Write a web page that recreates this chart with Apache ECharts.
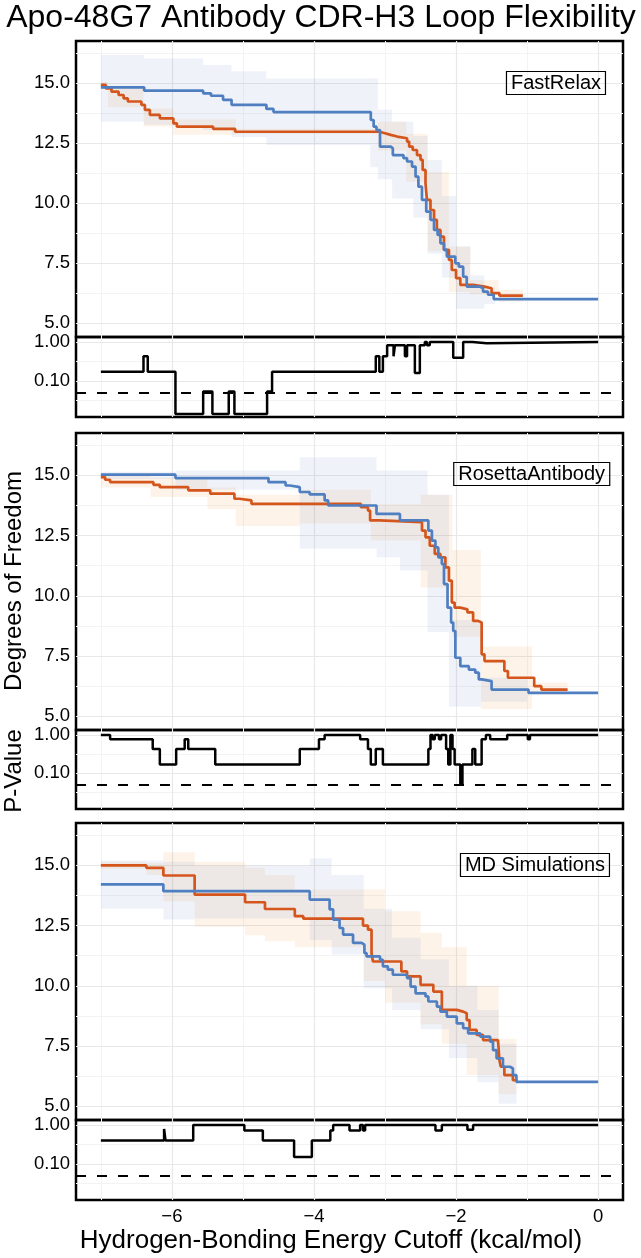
<!DOCTYPE html>
<html><head><meta charset="utf-8">
<script src="https://cdn.jsdelivr.net/npm/echarts@6/dist/echarts.min.js"></script>
<style>html,body{margin:0;padding:0;background:#fff}#c{width:641px;height:1258px}</style>
</head><body><div id="c"></div>
<script>
// ---------- tick labels / panel names ----------
const panelNames = ['FastRelax', 'RosettaAntibody', 'MD Simulations'];
const dofTicks = [5, 7.5, 10, 12.5, 15];
const pTicks = [0.1, 1];
const xTicks = [-6, -4, -2, 0];

// ---------- FastRelax ----------
const frOrange = [[-7.00,14.93],[-6.93,14.79],[-6.85,14.65],[-6.75,14.51],[-6.68,14.37],[-6.62,14.24],[-6.43,14.10],[-6.38,13.89],[-6.31,13.68],[-6.17,13.54],[-5.98,13.33],[-5.93,13.19],[-5.42,13.10],[-5.11,12.98],[-3.08,12.92],[-3.00,12.85],[-2.92,12.78],[-2.83,12.71],[-2.69,12.57],[-2.66,12.36],[-2.61,12.22],[-2.55,12.01],[-2.50,11.81],[-2.47,11.39],[-2.43,10.83],[-2.41,10.14],[-2.36,9.72],[-2.31,9.31],[-2.27,8.89],[-2.22,8.61],[-2.17,8.06],[-2.10,7.64],[-2.06,7.22],[-2.00,6.88],[-1.94,6.60],[-1.76,6.53],[-1.60,6.46],[-1.50,6.26],[-1.39,6.15],[-1.06,6.15]];
const frBlue = [[-7.00,14.83],[-6.39,14.69],[-5.56,14.58],[-5.45,14.48],[-5.28,14.31],[-5.16,14.10],[-4.67,13.93],[-4.57,13.80],[-3.20,13.47],[-3.16,13.19],[-3.12,13.05],[-3.07,12.36],[-2.92,12.29],[-2.89,12.01],[-2.74,11.88],[-2.69,11.74],[-2.62,11.53],[-2.57,11.11],[-2.53,10.69],[-2.48,10.14],[-2.42,9.65],[-2.36,9.31],[-2.31,8.89],[-2.26,8.68],[-2.22,8.33],[-2.17,8.06],[-2.13,7.78],[-2.01,7.50],[-1.96,7.36],[-1.90,6.94],[-1.85,6.53],[-1.67,6.46],[-1.62,6.32],[-1.55,6.19],[-1.47,6.01],[0,6.01]];
// ribbons: [x0, x1, lower, upper]
const frOrangeBand = [[-7.0,-6.9,14.75,15.05],[-6.9,-6.4,14.0,14.8],[-6.4,-5.98,13.2,13.95],[-5.98,-5.1,12.85,13.5],[-5.1,-3.1,12.9,13.1],[-3.1,-2.7,12.2,13.4],[-2.7,-2.4,10.9,12.9],[-2.4,-2.1,8.0,11.3],[-2.1,-1.8,6.3,8.2],[-1.8,-1.4,6.2,6.8],[-1.4,-1.06,5.9,6.4]];
const frBlueBand = [[-7.0,-6.39,13.4,16.18],[-6.39,-5.56,13.26,16.04],[-5.56,-5.16,13.05,15.76],[-5.16,-4.67,12.75,15.5],[-4.67,-3.21,12.43,15.2],[-3.21,-3.1,11.5,15.2],[-3.1,-2.9,11.0,13.9],[-2.9,-2.6,10.2,13.4],[-2.6,-2.4,9.4,12.8],[-2.4,-2.2,7.9,11.8],[-2.2,-2.0,6.9,10.3],[-2.0,-1.8,5.6,8.2],[-1.8,-1.6,5.6,7.0],[-1.6,-1.45,5.8,6.5]];
const frP = [[-7.00,0.17],[-6.40,0.43],[-6.34,0.17],[-5.95,0.014],[-5.56,0.053],[-5.43,0.014],[-5.20,0.053],[-5.12,0.014],[-4.66,0.053],[-4.59,0.17],[-3.13,0.43],[-3.08,0.17],[-3.03,0.43],[-2.97,0.83],[-2.88,0.43],[-2.86,0.83],[-2.72,0.43],[-2.69,0.83],[-2.58,0.16],[-2.51,0.83],[-2.44,1.0],[-2.41,0.83],[-2.37,1.0],[-2.04,0.39],[-1.90,1.0],[-1.77,0.93],[-1.57,1.0],[0,1.0]];

// ---------- RosettaAntibody ----------
const raOrange = [[-7.00,14.93],[-6.94,14.82],[-6.87,14.72],[-6.26,14.61],[-6.17,14.51],[-5.77,14.38],[-5.46,14.24],[-5.12,14.03],[-5.05,13.96],[-4.88,13.82],[-3.34,13.68],[-3.24,13.54],[-3.21,13.13],[-3.08,13.06],[-2.48,12.71],[-2.43,12.43],[-2.37,12.08],[-2.30,11.74],[-2.22,11.60],[-2.15,11.18],[-2.10,10.63],[-2.06,9.72],[-2.02,9.51],[-1.94,9.44],[-1.84,9.31],[-1.76,8.96],[-1.69,8.89],[-1.64,7.57],[-1.60,7.29],[-1.32,6.88],[-1.27,6.60],[-0.90,6.25],[-0.80,6.11],[-0.43,6.11]];
const raBlue = [[-7.00,15.03],[-5.95,14.89],[-4.64,14.72],[-4.40,14.58],[-4.34,14.51],[-4.20,14.31],[-4.06,14.21],[-3.85,13.96],[-3.80,13.75],[-3.12,13.40],[-2.79,13.13],[-2.39,12.71],[-2.34,12.29],[-2.29,12.01],[-2.25,11.60],[-2.20,11.32],[-2.17,10.49],[-2.12,9.51],[-2.07,8.89],[-2.04,8.54],[-2.01,7.43],[-1.94,7.08],[-1.82,6.94],[-1.73,6.81],[-1.68,6.53],[-1.64,6.46],[-1.50,6.11],[-0.98,5.97],[0,5.97]];
const raOrangeBand = [[-7.0,-6.3,14.5,15.05],[-6.3,-5.5,14.1,14.9],[-5.5,-5.1,13.6,14.5],[-5.1,-4.2,12.9,14.2],[-4.2,-3.2,13.0,14.4],[-3.2,-2.5,12.3,13.8],[-2.5,-2.05,10.35,14.2],[-2.05,-1.65,8.3,11.9],[-1.65,-0.93,5.3,7.9],[-0.93,-0.43,5.9,6.4]];
const raBlueBand = [[-7.0,-5.95,14.85,15.15],[-5.95,-4.2,14.4,15.2],[-4.2,-3.12,11.95,15.75],[-3.12,-2.79,11.6,15.2],[-2.79,-2.4,11.05,15.2],[-2.4,-2.1,8.5,14.2],[-2.1,-1.65,5.4,9.0],[-1.65,-1.0,5.6,6.6]];
const raP = [[-7.00,1.0],[-6.87,0.77],[-6.27,0.43],[-6.17,0.17],[-5.94,0.43],[-5.82,0.77],[-5.77,0.43],[-5.39,0.17],[-4.20,0.43],[-3.93,0.77],[-3.85,1.0],[-3.35,0.77],[-3.24,0.43],[-3.20,0.17],[-3.13,0.43],[-3.03,0.17],[-2.39,0.43],[-2.36,1.0],[-2.33,0.77],[-2.30,1.0],[-2.24,0.77],[-2.21,1.0],[-2.14,0.43],[-2.11,0.17],[-2.08,1.0],[-2.05,0.43],[-2.02,0.17],[-1.94,0.052],[-1.91,0.17],[-1.77,0.43],[-1.73,0.17],[-1.64,0.77],[-1.58,1.0],[-1.52,0.77],[-1.28,1.0],[-0.99,0.77],[-0.96,1.0],[0,1.0]];

// ---------- MD Simulations ----------
const mdOrange = [[-7.00,15.00],[-6.36,14.90],[-6.12,14.58],[-5.68,13.79],[-4.97,13.47],[-4.69,13.19],[-4.27,12.89],[-4.15,12.79],[-3.31,12.50],[-3.24,12.33],[-3.19,11.36],[-3.17,11.01],[-2.77,10.60],[-2.69,10.39],[-2.50,10.04],[-2.32,9.76],[-2.20,9.00],[-1.99,8.93],[-1.90,8.86],[-1.85,8.58],[-1.81,8.17],[-1.71,7.96],[-1.62,7.75],[-1.41,7.68],[-1.39,6.92],[-1.37,6.64],[-1.32,6.29],[-1.20,6.08],[-1.15,6.01]];
const mdBlue = [[-7.00,14.21],[-6.12,13.93],[-4.06,13.58],[-3.78,13.17],[-3.73,12.75],[-3.64,12.40],[-3.59,12.13],[-3.45,11.78],[-3.33,11.71],[-3.29,11.36],[-3.26,11.22],[-3.07,11.08],[-3.03,10.81],[-2.96,10.67],[-2.89,10.46],[-2.69,10.32],[-2.64,9.97],[-2.57,9.69],[-2.43,9.56],[-2.39,9.35],[-2.27,9.14],[-2.22,8.93],[-2.13,8.72],[-1.99,8.44],[-1.90,8.24],[-1.83,8.03],[-1.66,7.89],[-1.52,7.68],[-1.48,7.33],[-1.43,6.99],[-1.34,6.64],[-1.24,6.57],[-1.20,6.29],[-1.15,6.01],[0,6.01]];
const mdOrangeBand = [[-7.0,-6.36,14.85,15.15],[-6.36,-6.12,14.6,15.1],[-6.12,-5.68,13.5,15.55],[-5.68,-4.97,12.45,15.15],[-4.97,-4.69,12.1,14.9],[-4.69,-4.27,11.85,14.6],[-4.27,-3.3,11.6,14.0],[-3.3,-3.0,10.2,14.0],[-3.0,-2.5,9.3,13.1],[-2.5,-2.2,8.4,12.2],[-2.2,-1.85,7.6,11.6],[-1.85,-1.4,6.3,10.0],[-1.4,-1.15,5.5,7.8]];
const mdBlueBand = [[-7.0,-6.12,13.2,15.2],[-6.12,-5.68,12.75,15.15],[-5.68,-4.06,12.8,15.0],[-4.06,-3.75,11.9,15.3],[-3.75,-3.3,11.3,14.6],[-3.3,-2.9,9.9,13.2],[-2.9,-2.5,9.0,12.0],[-2.5,-2.1,8.2,11.1],[-2.1,-1.7,7.0,10.0],[-1.7,-1.4,6.0,9.0],[-1.4,-1.15,5.1,7.6]];
const mdP = [[-7.00,0.40],[-6.11,0.79],[-6.09,0.40],[-5.70,1.0],[-4.98,0.72],[-4.72,0.40],[-4.28,0.15],[-4.03,0.40],[-3.77,0.72],[-3.73,1.0],[-3.50,0.72],[-3.35,1.0],[-3.31,0.72],[-3.28,1.0],[-2.29,0.72],[-2.20,1.0],[-1.84,0.75],[-1.76,1.0],[0,1.0]];
const pThreshold = 0.05;

// ---------- styling / layout ----------
const FONT = "'Liberation Sans', Arial, Helvetica, sans-serif";
const ORANGE = '#D4561C', BLUE = '#4F7FC1';
const ORANGE_FILL = 'rgba(242,160,70,0.12)', BLUE_FILL = 'rgba(79,127,193,0.09)';
const X_MIN = -7.35, X_MAX = 0.35, Y_MIN = 4.43, Y_MAX = 16.76;
const P_MIN = -1.933, P_MAX = 0.129; // log10 range
const LEFT = 76, RIGHT = 18;
const mainTops = [41, 433, 823], mainH = [296, 297, 297];
const pTops = [337, 730, 1120], pH = [80, 79, 80];
const panels = [
  {orange: frOrange, blue: frBlue, ob: frOrangeBand, bb: frBlueBand, p: frP},
  {orange: raOrange, blue: raBlue, ob: raOrangeBand, bb: raBlueBand, p: raP},
  {orange: mdOrange, blue: mdBlue, ob: mdOrangeBand, bb: mdBlueBand, p: mdP}
];

const MAJ = '#E8E8E8', MIN = '#F3F3F3';
const grids = [], xAxes = [], yAxes = [], series = [], titles = [];
const minusFmt = v => (v < 0 ? '\u2212' + Math.abs(v) : String(v));

function bandSeries(idx, band, fill) {
  return {
    type: 'custom', xAxisIndex: idx, yAxisIndex: idx, z: 2, silent: true, clip: true,
    data: band, encode: {x: [0, 1], y: [2, 3]},
    renderItem: function (params, api) {
      const p0 = api.coord([api.value(0), api.value(3)]);
      const p1 = api.coord([api.value(1), api.value(2)]);
      return {type: 'rect', shape: {x: p0[0], y: p0[1], width: p1[0] - p0[0], height: p1[1] - p0[1]},
        style: {fill: fill}};
    }
  };
}
function markSeries(idx, items, z) {
  return {type: 'line', xAxisIndex: idx, yAxisIndex: idx, data: [], silent: true,
    markLine: {silent: true, z: z, symbol: ['none', 'none'], animation: false, label: {show: false},
      lineStyle: {type: 'solid', color: MAJ, width: 1}, data: items}};
}
function gridLineSeries(idx, xMaj, xMin, yMaj, yMin) {
  const d = [];
  xMin.forEach(v => d.push({xAxis: v, lineStyle: {color: MIN, width: 1, type: 'solid'}}));
  yMin.forEach(v => d.push({yAxis: v, lineStyle: {color: MIN, width: 1, type: 'solid'}}));
  xMaj.forEach(v => d.push({xAxis: v, lineStyle: {color: MAJ, width: 1.2, type: 'solid'}}));
  yMaj.forEach(v => d.push({yAxis: v, lineStyle: {color: MAJ, width: 1.2, type: 'solid'}}));
  return markSeries(idx, d, 1);
}
function stepLine(idx, data, color, z) {
  return {type: 'line', xAxisIndex: idx, yAxisIndex: idx, step: 'end', data: data, showSymbol: false,
    silent: true, z: z, lineStyle: {color: color, width: 2.7}, itemStyle: {color: color}};
}

panels.forEach((pn, k) => {
  const gi = 2 * k, pi = 2 * k + 1;
  grids.push({left: LEFT, right: RIGHT, top: mainTops[k], height: mainH[k], show: true,
    borderColor: '#000', borderWidth: 2.5, backgroundColor: 'transparent'});
  grids.push({left: LEFT, right: RIGHT, top: pTops[k], height: pH[k], show: true,
    borderColor: '#000', borderWidth: 2.5, backgroundColor: 'transparent'});
  [gi, pi].forEach(i => {
    xAxes.push({gridIndex: i, type: 'value', min: X_MIN, max: X_MAX,
      axisLine: {show: false}, axisTick: {show: false}, splitLine: {show: false}, minorTick: {show: false},
      axisLabel: {show: i === 5, customValues: xTicks, formatter: minusFmt, color: '#000',
        fontSize: 18.5, fontFamily: FONT, margin: 7}});
  });
  yAxes.push({gridIndex: gi, type: 'value', min: Y_MIN, max: Y_MAX,
    axisLine: {show: false}, axisTick: {show: false}, splitLine: {show: false},
    axisLabel: {customValues: dofTicks, formatter: v => v.toFixed(1), color: '#000',
      fontSize: 18.5, fontFamily: FONT, margin: 6}});
  yAxes.push({gridIndex: pi, type: 'value', min: P_MIN, max: P_MAX,
    axisLine: {show: false}, axisTick: {show: false}, splitLine: {show: false},
    axisLabel: {customValues: pTicks.map(v => Math.log10(v)), formatter: v => Math.pow(10, v).toFixed(2),
      color: '#000', fontSize: 18.5, fontFamily: FONT, margin: 6}});

  series.push(gridLineSeries(gi, xTicks, [-7, -5, -3, -1], dofTicks, [6.25, 8.75, 11.25, 13.75, 16.25]));
  series.push(gridLineSeries(pi, xTicks, [-7, -5, -3, -1], pTicks.map(v => Math.log10(v)), [-0.5, -1.5]));
  series.push(bandSeries(gi, pn.ob, ORANGE_FILL));
  series.push(bandSeries(gi, pn.bb, BLUE_FILL));
  series.push(stepLine(gi, pn.orange, ORANGE, 3));
  series.push(stepLine(gi, pn.blue, BLUE, 4));
  const pl = stepLine(pi, pn.p.map(d => [d[0], Math.log10(d[1])]), '#000', 4);
  pl.lineStyle.width = 2.5;
  series.push(pl);
  series.push(markSeries(pi, [{yAxis: Math.log10(pThreshold),
    lineStyle: {color: '#000', width: 2.2, type: [10, 11]}}], 3));
});

const boxPos = [{right: 35, top: 71}, {right: 31, top: 462}, {right: 31, top: 853}];
panelNames.forEach((n, k) => {
  titles.push(Object.assign({text: n, borderColor: '#000', borderWidth: 1.2, padding: [2, 5],
    textStyle: {fontFamily: FONT, fontSize: 20, fontWeight: 'normal', color: '#000', lineHeight: 20}},
    boxPos[k]));
});

const chart = echarts.init(document.getElementById('c'), null, {renderer: 'canvas'});
chart.setOption({
  animation: false,
  backgroundColor: '#fff',
  title: titles,
  grid: grids, xAxis: xAxes, yAxis: yAxes, series: series,
  graphic: [
    {type: 'text', x: 321, y: 18, style: {text: 'Apo-48G7 Antibody CDR-H3 Loop Flexibility',
      font: "32px " + FONT, fill: '#000', textAlign: 'center', textVerticalAlign: 'middle', align: 'center', verticalAlign: 'middle'}},
    {type: 'text', x: 331, y: 1241, style: {text: 'Hydrogen-Bonding Energy Cutoff (kcal/mol)',
      font: "26px " + FONT, fill: '#000', textAlign: 'center', textVerticalAlign: 'middle', align: 'center', verticalAlign: 'middle'}},
    {type: 'text', x: 14, y: 581, rotation: Math.PI / 2, style: {text: 'Degrees of Freedom',
      font: "24px " + FONT, fill: '#000', textAlign: 'center', textVerticalAlign: 'middle', align: 'center', verticalAlign: 'middle'}},
    {type: 'text', x: 14, y: 771, rotation: Math.PI / 2, style: {text: 'P-Value',
      font: "24px " + FONT, fill: '#000', textAlign: 'center', textVerticalAlign: 'middle', align: 'center', verticalAlign: 'middle'}}
  ]
});
</script></body></html>
